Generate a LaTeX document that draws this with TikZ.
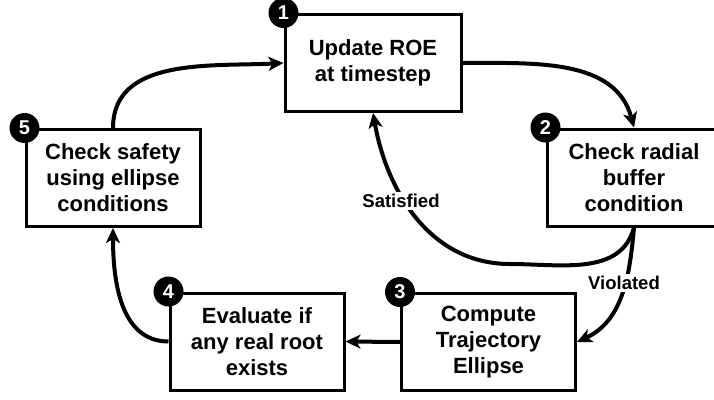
\documentclass[tikz,border=0pt]{standalone}
\usepackage{fontspec}
\setmainfont{Liberation Sans}
\usetikzlibrary{arrows.meta}
\begin{document}
\begin{tikzpicture}[x=1pt,y=-1pt,
  box/.style={draw=black,line width=3pt,fill=white,minimum width=174pt,minimum height=97pt,
    align=center,inner sep=0pt,font=\bfseries\fontsize{22}{26}\selectfont},
  badge/.style={circle,fill=black,text=white,minimum size=30pt,inner sep=0pt,
    font=\bfseries\fontsize{20}{20}\selectfont},
  flow/.style={line width=4pt,-{Stealth[length=15pt,width=14pt,inset=4pt]}},
  lbl/.style={fill=white,inner sep=2pt,font=\bfseries\fontsize{18.5}{20}\selectfont}]
\useasboundingbox (0,0) rectangle (714,399);
\node[box,minimum width=176pt] (b1) at (373,63) {Update ROE\\at timestep};
\node[box] (b2) at (634,177.5) {Check radial\\buffer\\condition};
\node[box] (b3) at (488.5,342) {Compute\\Trajectory\\Ellipse};
\node[box] (b4) at (257,341.5) {Evaluate if\\any real root\\exists};
\node[box] (b5) at (113,178) {Check safety\\using ellipse\\conditions};
\node[badge] (n1) at (b1.north west) {1};
\node[badge] (n2) at (b2.north west) {2};
\node[badge] (n3) at (b3.north west) {3};
\node[badge] (n4) at (b4.north west) {4};
\node[badge] (n5) at (b5.north west) {5};
\coordinate (sb) at (510,264);
\draw[flow] (b1.east) to[out=0,in=105] (b2.north);
\draw[line width=4pt] (b2.south) to[out=-105,in=0] (sb);
\draw[flow] (sb) to[out=180,in=-80] (b1.south);
\draw[flow] (b2.south) to[out=-95,in=25] (b3.east);
\draw[flow] (b3.west) -- (b4.east);
\draw[flow] (b4.west) to[out=180,in=-90] (b5.south);
\draw[flow] (b5.north) to[out=90,in=183] (b1.west);
\node[lbl] (sat) at (401,201) {Satisfied};
\node[lbl] (vio) at (624,283) {Violated};
\end{tikzpicture}
\end{document}
